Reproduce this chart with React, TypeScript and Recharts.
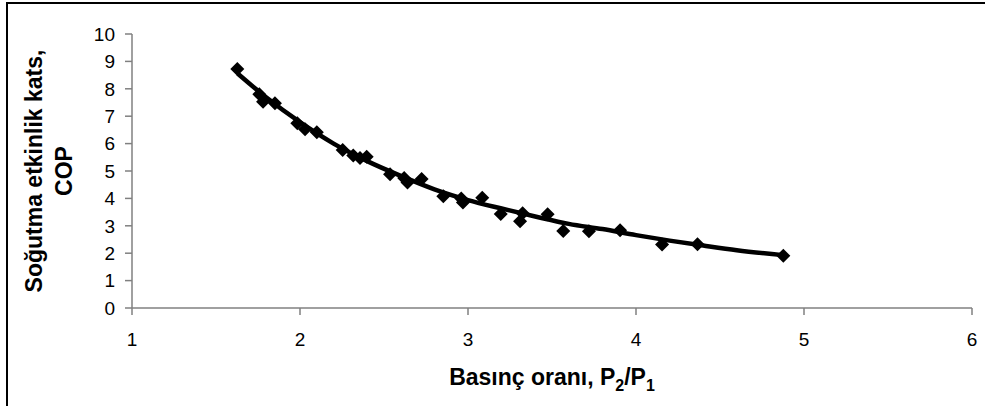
import React from "react";
import { ComposedChart, XAxis, YAxis, Scatter, Line } from "recharts";

const pointX = [1.627, 1.758, 1.78, 1.851, 1.984, 2.03, 2.1, 2.254, 2.317, 2.357, 2.397, 2.536, 2.62, 2.64, 2.724, 2.853, 2.96, 2.97, 3.085, 3.195, 3.31, 3.325, 3.474, 3.567, 3.72, 3.905, 4.155, 4.366, 4.877];
const pointY = [8.72, 7.8, 7.53, 7.47, 6.74, 6.52, 6.41, 5.77, 5.57, 5.47, 5.52, 4.88, 4.74, 4.58, 4.71, 4.08, 4.0, 3.85, 4.02, 3.43, 3.17, 3.46, 3.42, 2.81, 2.8, 2.84, 2.32, 2.33, 1.91];

const trendX = [1.63, 1.8, 2.0, 2.2, 2.4, 2.6, 2.8, 3.0, 3.2, 3.4, 3.6, 3.8, 4.0, 4.2, 4.4, 4.6, 4.875];
const trendY = [8.55, 7.68, 6.78, 6.0, 5.36, 4.82, 4.33, 3.94, 3.63, 3.34, 3.07, 2.88, 2.66, 2.46, 2.28, 2.11, 1.93];

const xTicks = [1, 2, 3, 4, 5, 6];
const yTicks = [0, 1, 2, 3, 4, 5, 6, 7, 8, 9, 10];

const points = pointX.map((x, i) => ({ x, y: pointY[i] }));
const trend = trendX.map((x, i) => ({ x, y: trendY[i] }));

const FONT = "'Liberation Sans', Arial, sans-serif";

const Diamond = (props: any) => {
  const { cx, cy } = props;
  if (cx == null || cy == null) return null;
  const r = 7;
  return (
    <polygon
      points={`${cx},${cy - r} ${cx + r},${cy} ${cx},${cy + r} ${cx - r},${cy}`}
      fill="#000"
      stroke="none"
    />
  );
};

export default function App() {
  return (
    <div style={{ position: "absolute", left: 0, top: 0, width: 985, height: 406, background: "#fff", overflow: "hidden" }}>
      <div
        style={{
          position: "absolute",
          left: 6,
          top: 2,
          width: 1000,
          height: 420,
          borderLeft: "2px solid #000",
          borderTop: "2px solid #000",
          boxSizing: "border-box",
        }}
      />
      <div style={{ position: "absolute", left: 0, top: 0 }}>
        <ComposedChart width={985} height={406} margin={{ top: 34, right: 13, bottom: 68, left: 0 }}>
          <XAxis
            type="number"
            dataKey="x"
            domain={[1, 6]}
            ticks={xTicks}
            interval={0}
            allowDataOverflow
            height={30}
            tickSize={7}
            tickMargin={18}
            stroke="#808080"
            strokeWidth={1.5}
            tick={{ fill: "#000", fontSize: 19, fontFamily: FONT }}
          />
          <YAxis
            type="number"
            dataKey="y"
            domain={[0, 10]}
            ticks={yTicks}
            interval={0}
            allowDataOverflow
            width={132}
            tickSize={7}
            tickMargin={10}
            stroke="#808080"
            strokeWidth={1.5}
            tick={{ fill: "#000", fontSize: 19, fontFamily: FONT }}
          />
          <Line
            data={trend}
            dataKey="y"
            type="monotone"
            stroke="#000"
            strokeWidth={4.5}
            dot={false}
            activeDot={false}
            isAnimationActive={false}
          />
          <Scatter data={points} dataKey="y" shape={<Diamond />} isAnimationActive={false} />
        </ComposedChart>
      </div>
      <svg width={985} height={406} style={{ position: "absolute", left: 0, top: 0, pointerEvents: "none" }}>
        <text x={552} y={385} textAnchor="middle" fontFamily={FONT} fontWeight="bold" fontSize={23} fill="#000">
          Basınç oranı, P<tspan fontSize={16} dy={6}>2</tspan><tspan dy={-6}>/P</tspan><tspan fontSize={16} dy={6}>1</tspan>
        </text>
        <text transform="translate(42,171) rotate(-90)" textAnchor="middle" fontFamily={FONT} fontWeight="bold" fontSize={23} fill="#000">
          Soğutma etkinlik kats,
        </text>
        <text transform="translate(72,171) rotate(-90)" textAnchor="middle" fontFamily={FONT} fontWeight="bold" fontSize={23} fill="#000">
          COP
        </text>
      </svg>
    </div>
  );
}
